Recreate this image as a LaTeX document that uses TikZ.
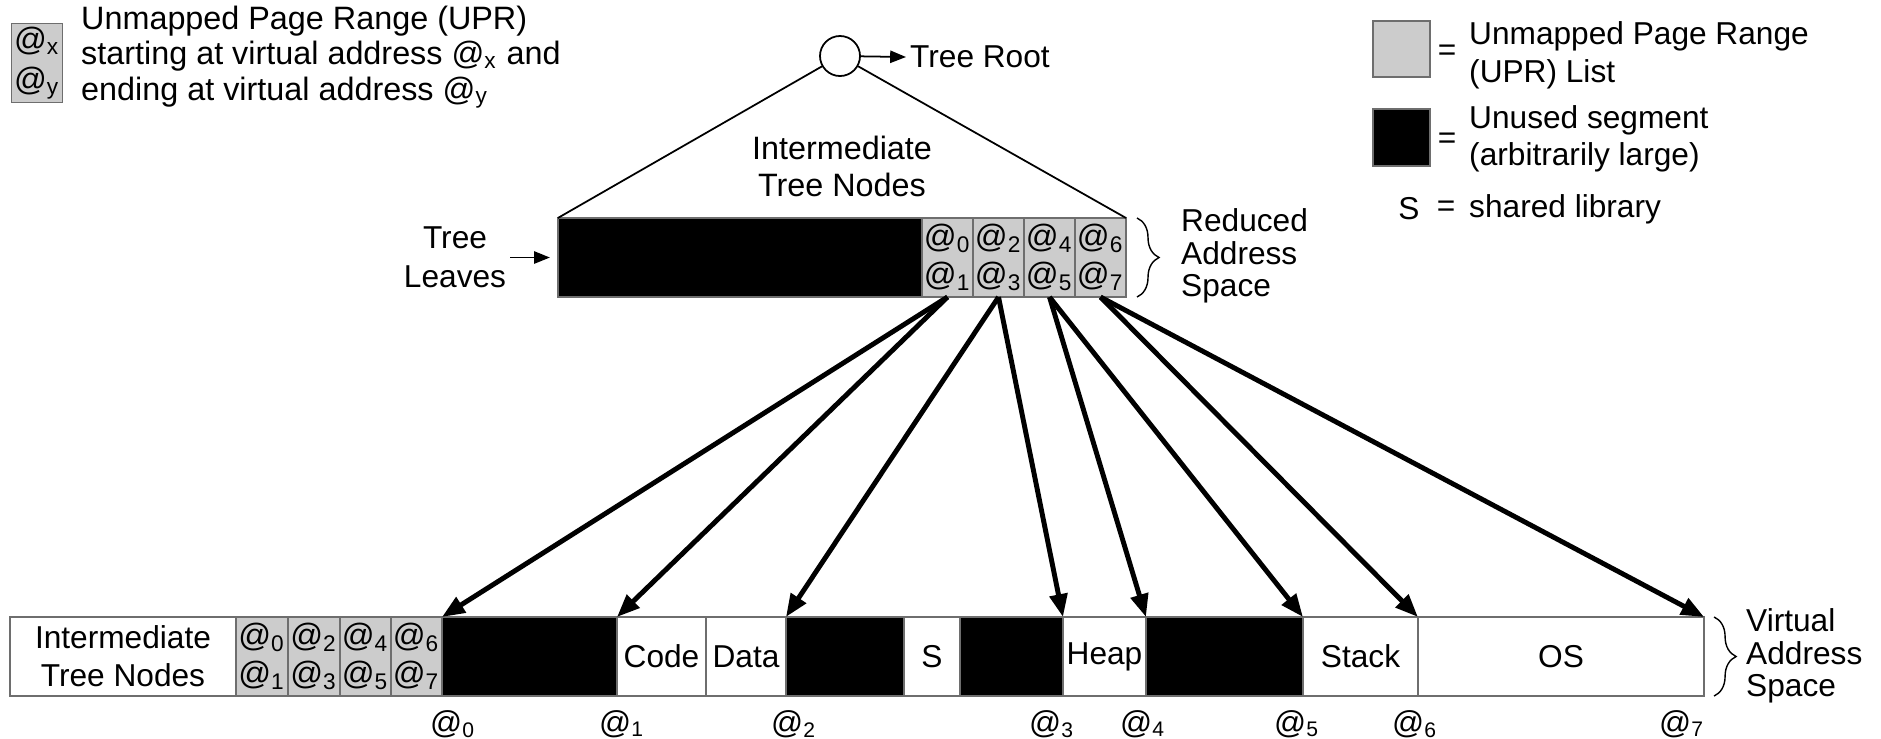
\documentclass[tikz,border=0pt]{standalone}
\usepackage{fontspec}
\setmainfont{Liberation Sans}
\usetikzlibrary{arrows.meta,decorations.pathreplacing}
\definecolor{uprgray}{RGB}{204,204,204}
\definecolor{edgegray}{RGB}{110,110,110}
\newcommand\adr[1]{@\textsubscript{#1}}
\tikzset{
  txt/.style={inner sep=1pt, font=\fontsize{9}{10}\selectfont},
  cellbox/.style={draw=edgegray, line width=0.5pt, inner sep=0pt, outer sep=0pt},
  upr/.style={cellbox, fill=uprgray, align=center, font=\fontsize{9.2}{10.8}\selectfont},
  unused/.style={cellbox, fill=black},
  region/.style={cellbox, fill=white, font=\fontsize{9}{10.8}\selectfont},
  ptr/.style={line width=1.4pt, -{Triangle[length=6.5pt,width=5pt]}},
  thinptr/.style={line width=0.5pt, -{Triangle[length=4.5pt,width=3.5pt]}},
  spanbrace/.style={decorate, decoration={brace, amplitude=2.2mm}, line width=0.4pt},
}
\begin{document}
\begin{tikzpicture}[x=0.01cm, y=-0.01cm]
\useasboundingbox (0,0) rectangle (1881,738);

% ---------- legend, top left ----------
\node[upr, minimum width=5.1mm, minimum height=7.9mm, font=\fontsize{9.2}{11.4}\selectfont] (lgupr) at (37,63) {\adr{x}\\\adr{y}};
\node[txt, anchor=west, align=left, font=\fontsize{9.2}{10.1}\selectfont] (lgtext) at (77,57)
  {Unmapped Page Range (UPR)\\starting at virtual address \adr{x} and\\ending at virtual address \adr{y}};

% ---------- legend, top right ----------
\node[cellbox, fill=uprgray, minimum width=5.7mm, minimum height=5.6mm] (lggray) at (1401.5,49) {};
\node[txt] (eq1) at (1447,53) {=};
\node[txt, anchor=west, align=left, font=\fontsize{9}{10.8}\selectfont] (lggraytxt) at (1465,55) {Unmapped Page Range\\(UPR) List};
\node[cellbox, fill=black, minimum width=5.7mm, minimum height=5.7mm] (lgblack) at (1401.5,137.5) {};
\node[txt] (eq2) at (1447,141) {=};
\node[txt, anchor=west, align=left, font=\fontsize{9}{10.4}\selectfont] (lgblacktxt) at (1465,139) {Unused segment\\(arbitrarily large)};
\node[txt] (lgS) at (1409,209) {S};
\node[txt] (eq3) at (1446,209) {=};
\node[txt, anchor=west] (lgStxt) at (1465,209) {shared library};

% ---------- reduced address space (tree leaves) ----------
\node[unused, minimum width=36.4mm, minimum height=7.9mm] (tb) at (740,257.5) {};
\node[upr, minimum width=5.1mm, minimum height=7.9mm] (t1) at (947.5,257.5) {\adr0\\\adr1};
\node[upr, minimum width=5.1mm, minimum height=7.9mm] (t2) at (998.5,257.5) {\adr2\\\adr3};
\node[upr, minimum width=5.1mm, minimum height=7.9mm] (t3) at (1049.5,257.5) {\adr4\\\adr5};
\node[upr, minimum width=5.1mm, minimum height=7.9mm] (t4) at (1100.5,257.5) {\adr6\\\adr7};

% ---------- tree above the leaves ----------
\node[circle, draw, line width=0.5pt, minimum size=4mm, inner sep=0pt] (root) at (840,56) {};
\draw[line width=0.5pt] (root) -- (tb.north west);
\draw[line width=0.5pt] (root) -- (t4.north east);
\node[txt, anchor=west] (rootlbl) at (906,57) {Tree Root};
\draw[thinptr] (root) -- (rootlbl.west);
\node[txt, align=center, font=\fontsize{9.2}{10.5}\selectfont] (inner) at (842,166) {Intermediate\\Tree Nodes};
\node[txt, align=center, font=\fontsize{9}{11}\selectfont] (leaves) at (455,257) {Tree\\Leaves};
\draw[thinptr, shorten >=0.8mm] (leaves.east |- tb.west) -- (tb.west);
\draw[spanbrace] ([xshift=1.1mm]t4.north east) -- ([xshift=1.1mm]t4.south east);
\node[txt, anchor=west, align=left, font=\fontsize{9}{9.3}\selectfont] (reduced) at (1177,256) {Reduced\\Address\\Space};

% ---------- virtual address space ----------
\node[region, align=center, minimum width=22.6mm, minimum height=7.9mm] (itn) at (123,656.5) {Intermediate\\Tree Nodes};
\node[upr, minimum width=5.2mm, minimum height=7.9mm] (g1) at (262,656.5) {\adr0\\\adr1};
\node[upr, minimum width=5.2mm, minimum height=7.9mm] (g2) at (314,656.5) {\adr2\\\adr3};
\node[upr, minimum width=5.1mm, minimum height=7.9mm] (g3) at (365.5,656.5) {\adr4\\\adr5};
\node[upr, minimum width=5.1mm, minimum height=7.9mm] (g4) at (416.5,656.5) {\adr6\\\adr7};
\node[unused, minimum width=17.5mm, minimum height=7.9mm] (u1) at (529.5,656.5) {};
\node[region, minimum width=8.9mm, minimum height=7.9mm] (code) at (661.5,656.5) {Code};
\node[region, minimum width=8.0mm, minimum height=7.9mm] (data) at (746,656.5) {Data};
\node[unused, minimum width=11.8mm, minimum height=7.9mm] (u2) at (845,656.5) {};
\node[region, minimum width=5.6mm, minimum height=7.9mm] (shared) at (932,656.5) {S};
\node[unused, minimum width=10.3mm, minimum height=7.9mm] (u3) at (1011.5,656.5) {};
\node[region, minimum width=8.3mm, minimum height=7.9mm] (heap) at (1104.5,656.5) {Heap};
\node[unused, minimum width=15.7mm, minimum height=7.9mm] (u4) at (1224.5,656.5) {};
\node[region, minimum width=11.5mm, minimum height=7.9mm] (stack) at (1360.5,656.5) {Stack};
\node[region, minimum width=28.6mm, minimum height=7.9mm] (os) at (1561,656.5) {OS};
\draw[spanbrace] ([xshift=1.0mm]os.north east) -- ([xshift=1.0mm]os.south east);
\node[txt, anchor=west, align=left, font=\fontsize{9}{9.3}\selectfont] (virtual) at (1742,656) {Virtual\\Address\\Space};

% ---------- address labels below the bar ----------
\node[txt] (a0) at (453,724) {\adr0};
\node[txt] (a1) at (622,724) {\adr1};
\node[txt] (a2) at (794,724) {\adr2};
\node[txt] (a3) at (1052,724) {\adr3};
\node[txt] (a4) at (1143,724) {\adr4};
\node[txt] (a5) at (1297,724) {\adr5};
\node[txt] (a6) at (1415,724) {\adr6};
\node[txt] (a7) at (1682,724) {\adr7};

% ---------- leaf pointers into the address space ----------
\draw[ptr] (t1.south) -- (u1.north west);
\draw[ptr] (t1.south) -- (code.north west);
\draw[ptr] (t2.south) -- (u2.north west);
\draw[ptr] (t2.south) -- (heap.north west);
\draw[ptr] (t3.south) -- (u4.north west);
\draw[ptr] (t3.south) -- (stack.north west);
\draw[ptr] (t4.south) -- (os.north west);
\draw[ptr] (t4.south) -- (os.north east);
\end{tikzpicture}
\end{document}
